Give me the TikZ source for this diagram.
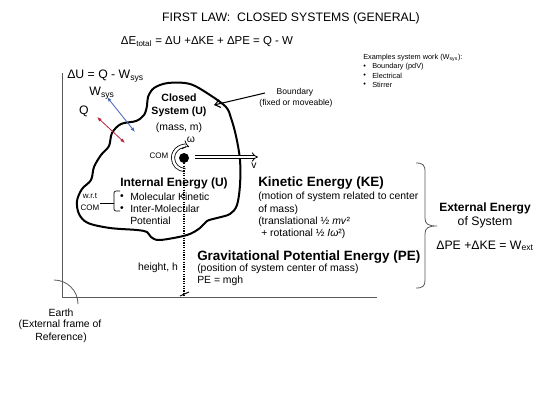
\documentclass[tikz,border=0pt]{standalone}
\usepackage{fontspec}
\setmainfont{Liberation Sans}
\usetikzlibrary{arrows.meta}
\definecolor{wblue}{RGB}{70,100,190}
\definecolor{qred}{RGB}{185,35,60}
\definecolor{axgray}{RGB}{90,90,90}
\begin{document}
\begin{tikzpicture}[x=0.75pt,y=-0.75pt,
  txt/.style={inner sep=0pt, font=\fontsize{7.8}{9.4}\selectfont},
  big/.style={inner sep=0pt, font=\fontsize{9.2}{11}\selectfont},
  eqf/.style={inner sep=0pt, font=\fontsize{8.6}{10}\selectfont},
  bldA/.style={inner sep=0pt, font=\fontsize{10.1}{12}\bfseries\selectfont},
  bldB/.style={inner sep=0pt, font=\fontsize{9}{11}\bfseries\selectfont},
  bldC/.style={inner sep=0pt, font=\fontsize{7.9}{9.5}\bfseries\selectfont},
  tiny/.style={inner sep=0pt, font=\fontsize{5.5}{6.6}\selectfont},
  small/.style={inner sep=0pt, font=\fontsize{6.4}{7.7}\selectfont},
  comf/.style={inner sep=0pt, font=\fontsize{6}{7}\selectfont},
  blobline/.style={line width=1.5pt, line join=round},
  thinax/.style={axgray, line width=0.6pt},
  dblarrow/.style={double, double distance=1.8pt, line width=0.6pt, -{Implies}},
  flux/.style={line width=0.6pt, {Latex[length=3.5pt,width=2.6pt]}-{Latex[length=3.5pt,width=2.6pt]}}
]
\fill[white] (0,0) rectangle (540,405);
\path[use as bounding box] (0,0) rectangle (540,405);

% titles
\node[big] (title) at (291,18) {FIRST LAW:\ \ CLOSED SYSTEMS (GENERAL)};
\node[eqf] (eq) at (207,42) {ΔE\textsubscript{total} = ΔU +ΔKE + ΔPE = Q - W};

% examples
\node[tiny, anchor=west] (ex0) at (363,58) {Examples system work (W\textsubscript{sys}):};
\node[tiny, anchor=west] (exb1) at (363,67) {•};
\node[tiny, anchor=west] (ex1) at (372,67) {Boundary (pdV)};
\node[tiny, anchor=west] (exb2) at (363,76) {•};
\node[tiny, anchor=west] (ex2) at (372,76) {Electrical};
\node[tiny, anchor=west] (exb3) at (363,85) {•};
\node[tiny, anchor=west] (ex3) at (372,85) {Stirrer};

% axes
\coordinate (axtop) at (62.5,73);
\coordinate (axorig) at (62.5,297.5);
\coordinate (axright) at (377,297.5);
\draw[thinax] (axtop) -- (axorig) -- (axright);
\draw[thinax] (54,280) arc[start angle=270, end angle=360, radius=24];

\node[big, anchor=west] (du) at (67,76) {ΔU = Q - W\textsubscript{sys}};
\node[big] (wsys) at (102,93) {W\textsubscript{sys}};
\node[big] (q) at (84,111) {Q};

% blob
\draw[blobline] plot[smooth cycle, tension=0.55] coordinates {
 (148,97) (154,88) (168,83) (190,84) (210,95) (226,107) (231,118) (236,136)
 (240,160) (240,185) (237,205) (230,214) (217,218) (207,221) (200,228)
 (187,235) (160,240) (151,237) (147,232) (137,230) (110,228) (88,223)
 (79,214) (77,201) (82,189) (91,180) (94,167) (101,155) (109,146) (112,133)
 (121,124) (136,121) (144,115) (147,106)};

% heat / work arrows
\coordinate (wa) at (107,97);
\coordinate (wb) at (135,132);
\coordinate (qa) at (97,117);
\coordinate (qb) at (125,143);
\draw[flux, wblue] (wa) -- (wb);
\draw[flux, qred] (qa) -- (qb);

% closed system labels
\node[bldC] (cl1) at (179,98) {Closed};
\node[bldC] (cl2) at (179,112) {System (U)};
\node[txt] (cl3) at (179,128) {(mass, m)};

% COM
\node[circle, fill=black, inner sep=0pt, minimum size=7.5pt] (dot) at (184,158) {};
\draw[double, double distance=1.8pt, line width=0.6pt, -{Implies}] (185,170) arc[start angle=90, end angle=290, radius=12];
\node[comf] (comlbl) at (159,156) {COM};
\node[txt] (om) at (191,140) {ω};
\coordinate (vs) at (195,157);
\coordinate (ve) at (258,157);
\draw[dblarrow] (vs) -- (ve);
\node[txt] (v) at (254,166) {v};

% height
\coordinate (hbase) at (184,296);
\draw[line width=0.8pt, densely dotted] (dot.south) -- (hbase);
\draw[line width=0.7pt] (180,296) -- (189,292);
\node[txt] (hgt) at (158,268) {height, h};

% internal energy
\node[bldB] (ie) at (174,183) {Internal Energy (U)};
\node[comf] (wrt) at (90,196) {w.r.t};
\node[comf] (com2) at (90,208) {COM};
\draw[line width=0.5pt, rounded corners=1.5pt] (120,191) -- (114,191) -- (114,211) -- (120,211);
\draw[line width=0.5pt] (100,203) -- (114,203);
\node[txt] (b1) at (122,197) {•};
\node[txt] (b2) at (122,209) {•};
\node[txt, anchor=west] (ie1) at (130,197) {Molecular Kinetic};
\node[txt, anchor=west] (ie2) at (130,209) {Inter-Molecular};
\node[txt, anchor=west] (ie3) at (130,221) {Potential};

% kinetic energy
\node[bldA, anchor=west] (ke) at (258,183) {Kinetic Energy (KE)};
\node[txt, anchor=west] (ke1) at (258,197) {(motion of system related to center};
\node[txt, anchor=west] (ke2) at (258,210) {of mass)};
\node[txt, anchor=west] (ke3) at (258,222) {(translational ½ \textit{mv}²};
\node[txt, anchor=west] (ke4) at (261,234) {+ rotational ½ \textit{Iω}²)};

% potential energy
\node[bldA, anchor=west] (pe) at (197,257) {Gravitational Potential Energy (PE)};
\node[txt, anchor=west] (pe1) at (197,269) {(position of system center of mass)};
\node[txt, anchor=west] (pe2) at (197,281) {PE = mgh};

% big brace
\draw[axgray, line width=0.6pt] (416,163) .. controls (423,163) and (425,165) .. (425,172) -- (425,218)
  .. controls (425,224) and (428,226) .. (437,226) .. controls (428,226) and (425,228) .. (425,234)
  -- (425,280) .. controls (425,286) and (423,288) .. (416,288);

\node[bldB] (ext1) at (485,208) {External Energy};
\node[big] (ext2) at (485,222) {of System};
\node[big] (ext3) at (485,246) {ΔPE +ΔKE = W\textsubscript{ext}};

% boundary
\node[small] (bnd) at (295,92) {Boundary};
\node[small] (bnd2) at (296,103) {(fixed or moveable)};
\coordinate (bs) at (265,93);
\coordinate (bp) at (214,105);
\draw[line width=0.8pt, -{Straight Barb[length=4pt,width=6pt]}] (bs) -- (bp);

% earth
\node[txt] (e1) at (61,313) {Earth};
\node[txt] (e2) at (60,325) {(External frame of};
\node[txt] (e3) at (61,338) {Reference)};
\end{tikzpicture}
\end{document}
